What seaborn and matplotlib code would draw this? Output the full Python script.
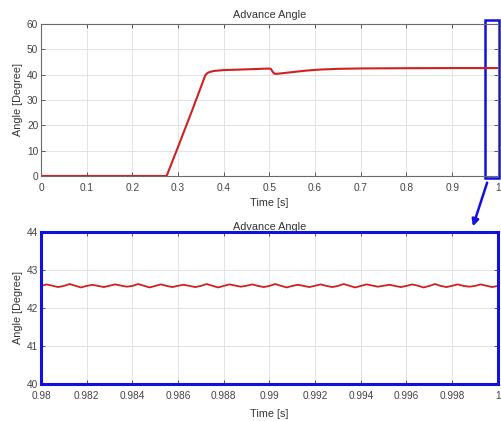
import numpy as np
import pandas as pd
import matplotlib
matplotlib.use("Agg")
import matplotlib.pyplot as plt
import seaborn as sns
from matplotlib.patches import Rectangle

# ---- data ----
top_time = [0.0, 0.275, 0.30, 0.33, 0.36, 0.365, 0.37, 0.38, 0.40, 0.45, 0.497,
            0.503, 0.508, 0.512, 0.52, 0.55, 0.58, 0.61, 0.65, 0.70, 0.80, 0.90, 1.0]
top_angle = [0.0, 0.0, 11.5, 25.5, 39.9, 40.7, 41.1, 41.5, 41.8, 42.1, 42.4,
             42.3, 40.9, 40.3, 40.4, 41.0, 41.6, 42.0, 42.3, 42.45, 42.55, 42.6, 42.6]

zoom_angle = [
    42.58, 42.62, 42.585, 42.55, 42.58, 42.63, 42.585, 42.54, 42.58, 42.61, 42.58, 42.55,
    42.585, 42.62, 42.59, 42.56, 42.58, 42.63, 42.585, 42.54, 42.58, 42.62, 42.58, 42.55,
    42.585, 42.61, 42.58, 42.55, 42.58, 42.63, 42.585, 42.54, 42.58, 42.62, 42.59, 42.56,
    42.585, 42.62, 42.58, 42.55, 42.58, 42.63, 42.585, 42.54, 42.58, 42.61, 42.58, 42.55,
    42.585, 42.62, 42.58, 42.55, 42.58, 42.63, 42.585, 42.54, 42.58, 42.62, 42.59, 42.56,
    42.585, 42.61, 42.58, 42.55, 42.58, 42.62, 42.585, 42.54, 42.58, 42.63, 42.58, 42.55,
    42.585, 42.62, 42.58, 42.56, 42.58, 42.62, 42.585, 42.55, 42.58]
zoom_time = np.linspace(0.98, 1.0, len(zoom_angle))

top_xticks = [0, 0.1, 0.2, 0.3, 0.4, 0.5, 0.6, 0.7, 0.8, 0.9, 1.0]
top_xlabels = ["0", "0.1", "0.2", "0.3", "0.4", "0.5", "0.6", "0.7", "0.8", "0.9", "1"]
top_yticks = [0, 10, 20, 30, 40, 50, 60]
zoom_xticks = [0.98, 0.982, 0.984, 0.986, 0.988, 0.99, 0.992, 0.994, 0.996, 0.998, 1.0]
zoom_xlabels = ["0.98", "0.982", "0.984", "0.986", "0.988", "0.99", "0.992", "0.994",
                "0.996", "0.998", "1"]
zoom_yticks = [40, 41, 42, 43, 44]

title = "Advance Angle"
xlabel = "Time [s]"
ylabel = "Angle [Degree]"

# ---- style ----
sns.set_theme(style="whitegrid", rc={
    "axes.edgecolor": "#6a6a6a",
    "axes.linewidth": 0.8,
    "grid.color": "#e3e3e3",
    "grid.linewidth": 0.7,
    "xtick.direction": "in",
    "ytick.direction": "in",
    "xtick.top": True,
    "ytick.right": True,
    "xtick.bottom": True,
    "ytick.left": True,
    "xtick.major.size": 3,
    "ytick.major.size": 3,
    "xtick.color": "#555555",
    "ytick.color": "#555555",
    "text.color": "#333333",
    "axes.labelcolor": "#333333",
})
plt.rcParams["font.family"] = ["Liberation Sans", "DejaVu Sans"]

line_color = "#d02020"
blue = "#1010e0"

fig = plt.figure(figsize=(5.02, 4.21), dpi=100)
ax1 = fig.add_axes([0.0817, 0.582, 0.910, 0.361])
ax2 = fig.add_axes([0.0817, 0.088, 0.910, 0.361])

df_top = pd.DataFrame({"t": top_time, "a": top_angle})
df_zoom = pd.DataFrame({"t": zoom_time, "a": zoom_angle})

sns.lineplot(data=df_top, x="t", y="a", ax=ax1, color=line_color, linewidth=1.5)
sns.lineplot(data=df_zoom, x="t", y="a", ax=ax2, color=line_color, linewidth=1.3)

for ax, xt, xl, yt in [(ax1, top_xticks, top_xlabels, top_yticks),
                       (ax2, zoom_xticks, zoom_xlabels, zoom_yticks)]:
    ax.set_xticks(xt)
    ax.set_xticklabels(xl)
    ax.set_yticks(yt)
    ax.set_xlim(xt[0], xt[-1])
    ax.set_ylim(yt[0], yt[-1])
    ax.tick_params(labelsize=7.3, width=0.6, colors="#444444")
    ax.tick_params(axis="y", pad=2)
    ax.tick_params(axis="x", pad=5)
    ax.set_ylabel(ylabel, fontsize=7.8, labelpad=3)

ax1.set_title(title, fontsize=7.8, pad=4)
ax2.set_title(title, fontsize=7.8, pad=1.5)
ax1.set_xlabel(xlabel, fontsize=7.8, labelpad=4)
ax2.set_xlabel(xlabel, fontsize=7.8, labelpad=6)

for s in ax2.spines.values():
    s.set_color(blue)
    s.set_linewidth(2.2)

rect = Rectangle((0.972, -0.8), 0.031, 62.4, transform=ax1.transData,
                 fill=False, edgecolor=blue, linewidth=1.8, clip_on=False)
ax1.add_patch(rect)

fig.patches.append(matplotlib.patches.FancyArrowPatch(
    (488 / 502, 1 - 180 / 421), (472 / 502, 1 - 229 / 421),
    transform=fig.transFigure, arrowstyle="-|>", mutation_scale=10,
    color=blue, linewidth=1.8))

fig.savefig("out.png", dpi=100)
